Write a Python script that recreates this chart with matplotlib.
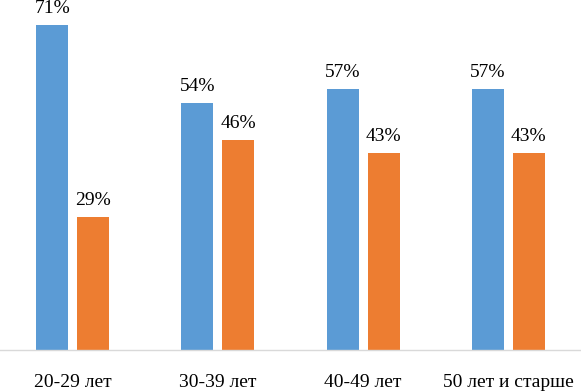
import numpy as np
import matplotlib.pyplot as plt

categories = ["20-29 лет", "30-39 лет", "40-49 лет", "50 лет и старше"]
series_a = [71, 54, 57, 57]
series_b = [29, 46, 43, 43]

plt.rcParams['font.family'] = ['Liberation Serif', 'DejaVu Serif']

fig = plt.figure(figsize=(5.81, 3.91), dpi=100)
ax = fig.add_axes([0, 41 / 391, 1, 350 / 391])

x = np.arange(len(categories))
width = 0.22
offset = 0.141

bars_a = ax.bar(x - offset, series_a, width, color="#5B9BD5")
bars_b = ax.bar(x + offset, series_b, width, color="#ED7D31")

# percent labels above each bar
for bars, vals in ((bars_a, series_a), (bars_b, series_b)):
    for b, v in zip(bars, vals):
        ax.annotate(f"{v}%", (b.get_x() + b.get_width() / 2, v),
                    xytext=(0, 8), textcoords="offset pixels",
                    ha="center", va="bottom", fontsize=14, color="black")

ax.set_xlim(-0.5, len(categories) - 0.5)
ax.set_ylim(0, 76.5)
ax.set_xticks(x)
ax.set_xticklabels(categories, fontsize=14)
ax.tick_params(axis="x", length=0, pad=17)
ax.set_yticks([])
for side in ("left", "right", "top"):
    ax.spines[side].set_visible(False)
ax.spines["bottom"].set_color("#d9d9d9")
ax.spines["bottom"].set_linewidth(1)

fig.savefig("out.png", dpi=100)
